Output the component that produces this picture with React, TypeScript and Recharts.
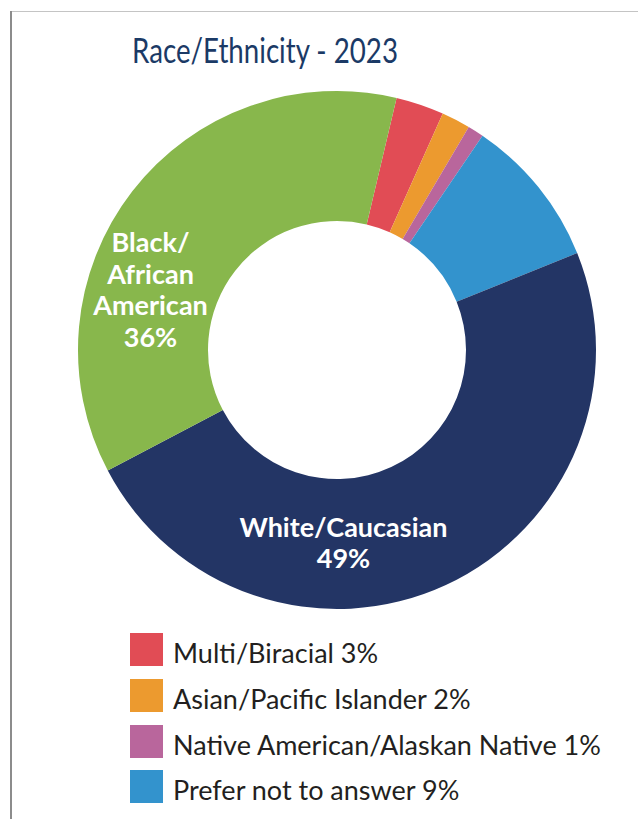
import React from "react";
import { PieChart, Pie, Cell } from "recharts";

const categories = [
  "Multi/Biracial",
  "Asian/Pacific Islander",
  "Native American/Alaskan Native",
  "Prefer not to answer",
  "White/Caucasian",
  "Black/African American",
];
const values = [3.0, 1.8, 1.0, 9.4, 48.4, 36.4];
const percentLabels = ["3%", "2%", "1%", "9%", "49%", "36%"];
const colors = ["#e14c55", "#ec9a2f", "#b9669c", "#3393cd", "#233565", "#88b74c"];
const inLegend = [true, true, true, true, false, false];
const sliceLabelLines = [
  null,
  null,
  null,
  null,
  ["White/Caucasian", "49%"],
  ["Black/", "African", "American", "36%"],
];
// label anchor relative to pie center, as fraction of outer radius
const labelOffsets = [null, null, null, null, [0.025, 0.722], [-0.72, -0.378]];

const data = categories.map((name, i) => ({
  name,
  value: values[i],
  pct: percentLabels[i],
  color: colors[i],
  legend: inLegend[i],
}));

const FONT = "Lato, 'Open Sans', sans-serif";

const renderLabel = (props: any) => {
  const { cx, cy, outerRadius, index } = props;
  const lines = sliceLabelLines[index];
  const off = labelOffsets[index];
  if (!lines || !off) return null;
  const x = cx + off[0] * outerRadius;
  const y = cy + off[1] * outerRadius;
  return (
    <text
      x={x}
      y={y}
      textAnchor="middle"
      fill="#ffffff"
      fontFamily={FONT}
      fontWeight={700}
      fontSize={27}
    >
      {lines.map((l: string, k: number) => (
        <tspan key={k} x={x} dy={k === 0 ? 0 : 31.5}>
          {l}
        </tspan>
      ))}
    </text>
  );
};

export default function App() {
  return (
    <div
      style={{
        position: "absolute",
        left: 0,
        top: 0,
        width: 638,
        height: 819,
        background: "#ffffff",
        overflow: "hidden",
      }}
    >
      <div
        style={{
          position: "absolute",
          left: 10,
          top: 11,
          width: 640,
          height: 1,
          background: "#c4c4c4",
        }}
      />
      <div
        style={{
          position: "absolute",
          left: 10,
          top: 11,
          width: 1.5,
          height: 820,
          background: "#8c8c8c",
        }}
      />
      <svg
        width={638}
        height={90}
        style={{ position: "absolute", left: 0, top: 0 }}
      >
        <text
          x={132}
          y={63}
          textLength={266}
          lengthAdjust="spacingAndGlyphs"
          fontFamily={FONT}
          fontSize={35}
          fill="#1b3a66"
        >
          Race/Ethnicity - 2023
        </text>
      </svg>
      <div style={{ position: "absolute", left: 0, top: 0 }}>
        <PieChart
          width={638}
          height={640}
          margin={{ top: 0, right: 0, bottom: 0, left: 0 }}
        >
          <Pie
            data={data}
            dataKey="value"
            nameKey="name"
            cx={337}
            cy={350}
            innerRadius={129}
            outerRadius={259}
            startAngle={76.7}
            endAngle={-283.3}
            stroke="none"
            isAnimationActive={false}
            label={renderLabel}
            labelLine={false}
          >
            {data.map((d) => (
              <Cell key={d.name} fill={d.color} />
            ))}
          </Pie>
        </PieChart>
      </div>
      <div
        style={{
          position: "absolute",
          left: 130,
          top: 627,
          width: 500,
          fontFamily: FONT,
        }}
      >
        {data
          .filter((d) => d.legend)
          .map((d) => (
            <div
              key={d.name}
              style={{ display: "flex", alignItems: "center", height: 45.7 }}
            >
              <div
                style={{
                  width: 33,
                  height: 33,
                  background: d.color,
                  marginRight: 10,
                  flexShrink: 0,
                }}
              />
              <span
                style={{
                  fontSize: 27,
                  color: "#231f20",
                  whiteSpace: "nowrap",
                  position: "relative",
                  top: 3,
                }}
              >
                {d.name} {d.pct}
              </span>
            </div>
          ))}
      </div>
    </div>
  );
}
